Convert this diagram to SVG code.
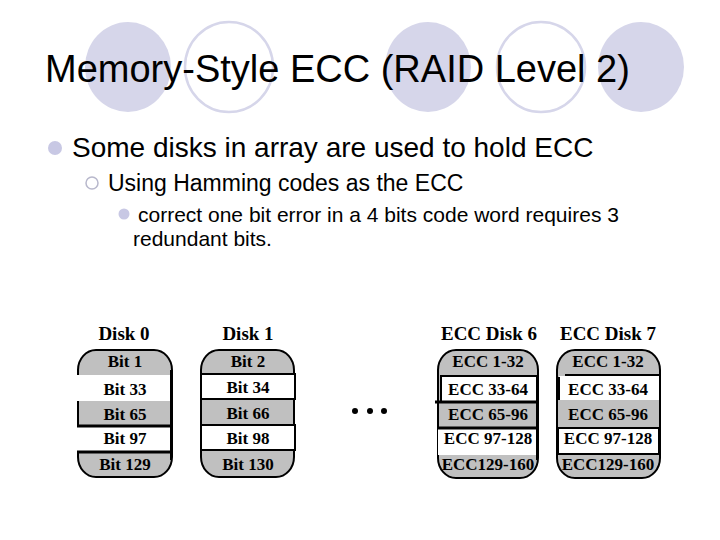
<svg xmlns="http://www.w3.org/2000/svg" width="720" height="540" viewBox="0 0 720 540">
<style>
.deco-f{fill:#d6d6ea;}
.deco-o{fill:none;stroke:#d6d6ea;stroke-width:2.5;}
.title{font-family:"Liberation Sans",Arial,sans-serif;font-size:38px;fill:#000;}
.b1{font-family:"Liberation Sans",Arial,sans-serif;font-size:28px;fill:#000;}
.b2{font-family:"Liberation Sans",Arial,sans-serif;font-size:23px;fill:#000;}
.b3{font-family:"Liberation Sans",Arial,sans-serif;font-size:21px;fill:#000;}
.lbl{font-family:"Liberation Serif","Times New Roman",serif;font-weight:bold;font-size:19px;text-anchor:middle;fill:#000;}
.bt{font-family:"Liberation Serif","Times New Roman",serif;font-weight:bold;font-size:17px;text-anchor:middle;fill:#000;}
.body{fill:#c0c0c0;stroke:#000;stroke-width:2;}
.w{fill:#fff;stroke:none;}
.wb{fill:#fff;stroke:#000;stroke-width:2;}
.ln{stroke:#000;stroke-width:2;}
.lnt{stroke:#000;stroke-width:3;}
</style>
<rect width="720" height="540" fill="#fff"/>
<g id="decor">
<ellipse class="deco-f" cx="128" cy="67" rx="43" ry="45"/>
<ellipse class="deco-o" cx="229" cy="67" rx="44" ry="45"/>
<ellipse class="deco-f" cx="428" cy="67" rx="43" ry="45"/>
<ellipse class="deco-o" cx="541" cy="67" rx="44" ry="45"/>
<ellipse class="deco-f" cx="641" cy="67" rx="43" ry="45"/>
</g>
<text id="title" class="title" x="45" y="82">Memory-Style ECC (RAID Level 2)</text>
<g id="bullets">
<circle cx="55" cy="148" r="7" fill="#c8c8e4"/>
<text class="b1" x="72" y="157">Some disks in array are used to hold ECC</text>
<circle cx="92" cy="183" r="6" fill="none" stroke="#b8b8cc" stroke-width="1.5"/>
<text class="b2" x="108" y="191">Using Hamming codes as the ECC</text>
<circle cx="124" cy="214" r="5.5" fill="#c8c8e4"/>
<text class="b3" x="138" y="222">correct one bit error in a 4 bits code word requires 3</text>
<text class="b3" x="133" y="246">redundant bits.</text>
</g>
<g id="disk0">
<text class="lbl" x="124" y="340">Disk 0</text>
<rect class="body" x="78" y="350" width="94" height="127" rx="18" ry="20"/>
<rect class="w" x="77" y="375" width="94" height="26"/>
<rect class="w" x="77" y="427" width="94" height="25"/>
<line class="ln" x1="171" y1="370" x2="171" y2="460"/>
<line class="lnt" x1="77" y1="426" x2="172" y2="426"/>
<line class="lnt" x1="77" y1="452" x2="172" y2="452"/>
<text class="bt" x="125" y="367">Bit 1</text>
<text class="bt" x="125" y="395">Bit 33</text>
<text class="bt" x="125" y="420">Bit 65</text>
<text class="bt" x="125" y="444">Bit 97</text>
<text class="bt" x="125" y="470">Bit 129</text>
</g>
<g id="disk1">
<text class="lbl" x="248" y="340">Disk 1</text>
<rect class="body" x="201" y="350" width="93" height="127" rx="18" ry="20"/>
<rect class="wb" x="201" y="374" width="94" height="25"/>
<rect class="wb" x="201" y="425" width="94" height="25"/>
<text class="bt" x="248" y="367">Bit 2</text>
<text class="bt" x="248" y="393">Bit 34</text>
<text class="bt" x="248" y="419">Bit 66</text>
<text class="bt" x="248" y="444">Bit 98</text>
<text class="bt" x="248" y="470">Bit 130</text>
</g>
<g id="dots">
<circle cx="355" cy="411" r="3" fill="#000"/>
<circle cx="370" cy="411" r="3" fill="#000"/>
<circle cx="384" cy="411" r="3" fill="#000"/>
</g>
<g id="disk6">
<text class="lbl" x="489" y="340">ECC Disk 6</text>
<rect class="body" x="438" y="350" width="100" height="128" rx="18" ry="20"/>
<rect class="w" x="441" y="377" width="96" height="25"/>
<rect class="w" x="438" y="429" width="99" height="26"/>
<line class="ln" x1="440" y1="376" x2="538" y2="376"/>
<line class="ln" x1="441" y1="376" x2="441" y2="402"/>
<line class="ln" x1="537" y1="376" x2="537" y2="460"/>
<line class="lnt" x1="435" y1="402" x2="538" y2="402"/>
<line class="lnt" x1="438" y1="428" x2="538" y2="428"/>
<text class="bt" x="488" y="367">ECC 1-32</text>
<text class="bt" x="488" y="395">ECC 33-64</text>
<text class="bt" x="488" y="420">ECC 65-96</text>
<text class="bt" x="488" y="444">ECC 97-128</text>
<text class="bt" x="488" y="470">ECC129-160</text>
</g>
<g id="disk7">
<text class="lbl" x="608" y="340">ECC Disk 7</text>
<rect class="body" x="557" y="350" width="103" height="128" rx="18" ry="20"/>
<rect class="w" x="559" y="376" width="100" height="24"/>
<line class="ln" x1="565" y1="375" x2="660" y2="375"/>
<line class="ln" x1="559" y1="377" x2="559" y2="400"/>
<rect class="wb" x="558" y="428" width="101" height="26"/>
<text class="bt" x="608" y="367">ECC 1-32</text>
<text class="bt" x="608" y="395">ECC 33-64</text>
<text class="bt" x="608" y="420">ECC 65-96</text>
<text class="bt" x="608" y="444">ECC 97-128</text>
<text class="bt" x="608" y="470">ECC129-160</text>
</g>
</svg>
